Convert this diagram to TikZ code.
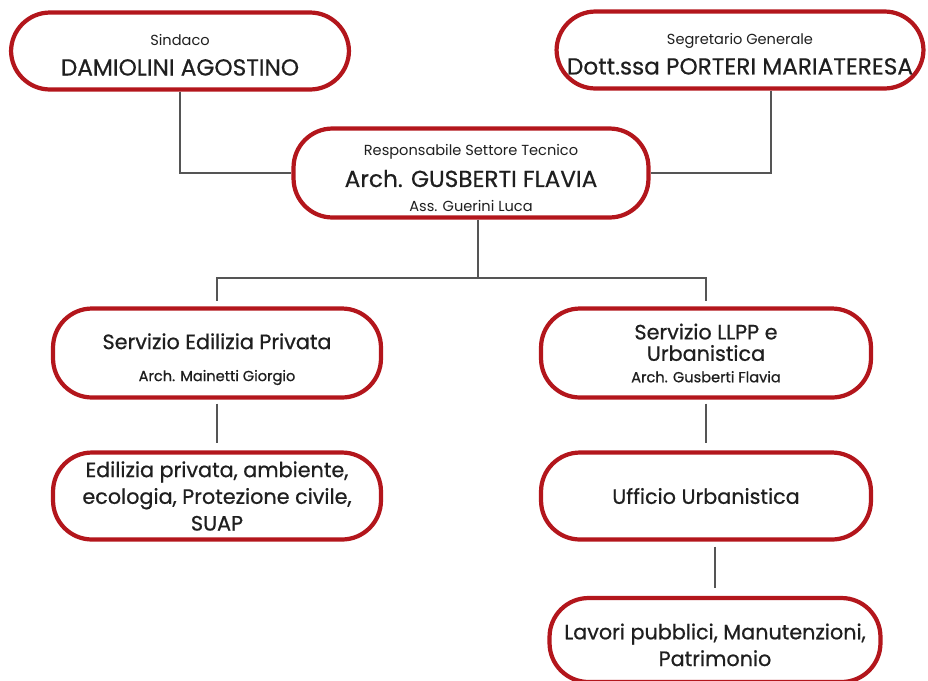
\documentclass[tikz,border=0pt]{standalone}
\usepackage{fontspec}
\setmainfont{Poppins}
\usetikzlibrary{positioning}
\definecolor{boxred}{HTML}{B3161C}
\definecolor{linegray}{HTML}{555555}
\newcommand{\roletxt}[1]{{\fontsize{8.3}{10}\selectfont #1}}
\newcommand{\nametxt}[1]{{\fontsize{13.2}{15}\selectfont\addfontfeature{FakeBold=0.5} #1}}
\newcommand{\unitfont}{\fontsize{11.8}{15.2}\selectfont\addfontfeature{FakeBold=0.7}}
\newcommand{\lift}[1]{\rule{0pt}{#1}}
\begin{document}
\begin{tikzpicture}[
x=0.02cm, y=-0.02cm,
every node/.style={draw=boxred, line width=2.4pt, rounded corners=0.78cm, fill=white, align=center, text=black!88, inner sep=2pt},
unitbox/.style={font=\unitfont},
conn/.style={draw=linegray, line width=0.8pt}
]
\useasboundingbox (0,0) rectangle (928,680);
% vertici
\node (sindaco) [minimum width=6.76cm, minimum height=1.54cm] at (180,51) {\lift{11pt}\roletxt{Sindaco}\\[5pt] \nametxt{DAMIOLINI AGOSTINO}};
\node (segretario) [minimum width=7.34cm, minimum height=1.54cm] at (740,50) {\lift{11pt}\roletxt{Segretario Generale}\\[5pt] \nametxt{Dott.ssa PORTERI MARIATERESA}};
\node (tecnico) [minimum width=7.1cm, minimum height=1.78cm] at (471,173) {\lift{12pt}\roletxt{Responsabile Settore Tecnico}\\[6pt] \nametxt{Arch. GUSBERTI FLAVIA}\\[2pt] \roletxt{Ass. Guerini Luca}};
% servizi
\node (edilizia) [unitbox, minimum width=6.56cm, minimum height=1.78cm] at (217,353) {\lift{16pt}Servizio Edilizia Privata\\[3pt] \roletxt{Arch. Mainetti Giorgio}};
\node (llpp) [unitbox, minimum width=6.6cm, minimum height=1.78cm] at (706,353) {Servizio LLPP e\\[-3pt] Urbanistica\\[-3pt] \roletxt{Arch. Gusberti Flavia}};
% uffici
\node (ambiente) [unitbox, minimum width=6.56cm, minimum height=1.74cm] at (217,496) {Edilizia privata, ambiente,\\ ecologia, Protezione civile,\\ SUAP};
\node (urbanistica) [unitbox, minimum width=6.6cm, minimum height=1.74cm] at (706,496) {Ufficio Urbanistica};
\node (lavori) [unitbox, minimum width=6.62cm, minimum height=1.68cm] at (715,640) {\lift{14.5pt}Lavori pubblici, Manutenzioni,\\ Patrimonio};
% collegamenti
\coordinate (segdrop) at (771,0);
\coordinate (hub) at (478,278);
\draw[conn] (sindaco) |- (tecnico.west);
\draw[conn] (segretario.south -| segdrop) |- (tecnico.east);
\draw[conn] (tecnico.south -| hub) -- (hub);
\draw[conn, shorten >=0.1cm] (hub) -| (edilizia.north);
\draw[conn, shorten >=0.1cm] (hub) -| (llpp.north);
\draw[conn, shorten <=0.08cm, shorten >=0.14cm] (edilizia) -- (ambiente);
\draw[conn, shorten <=0.08cm, shorten >=0.14cm] (llpp) -- (urbanistica);
\draw[conn, shorten <=0.1cm, shorten >=0.16cm] (urbanistica.south -| lavori) -- (lavori);
\end{tikzpicture}
\end{document}
